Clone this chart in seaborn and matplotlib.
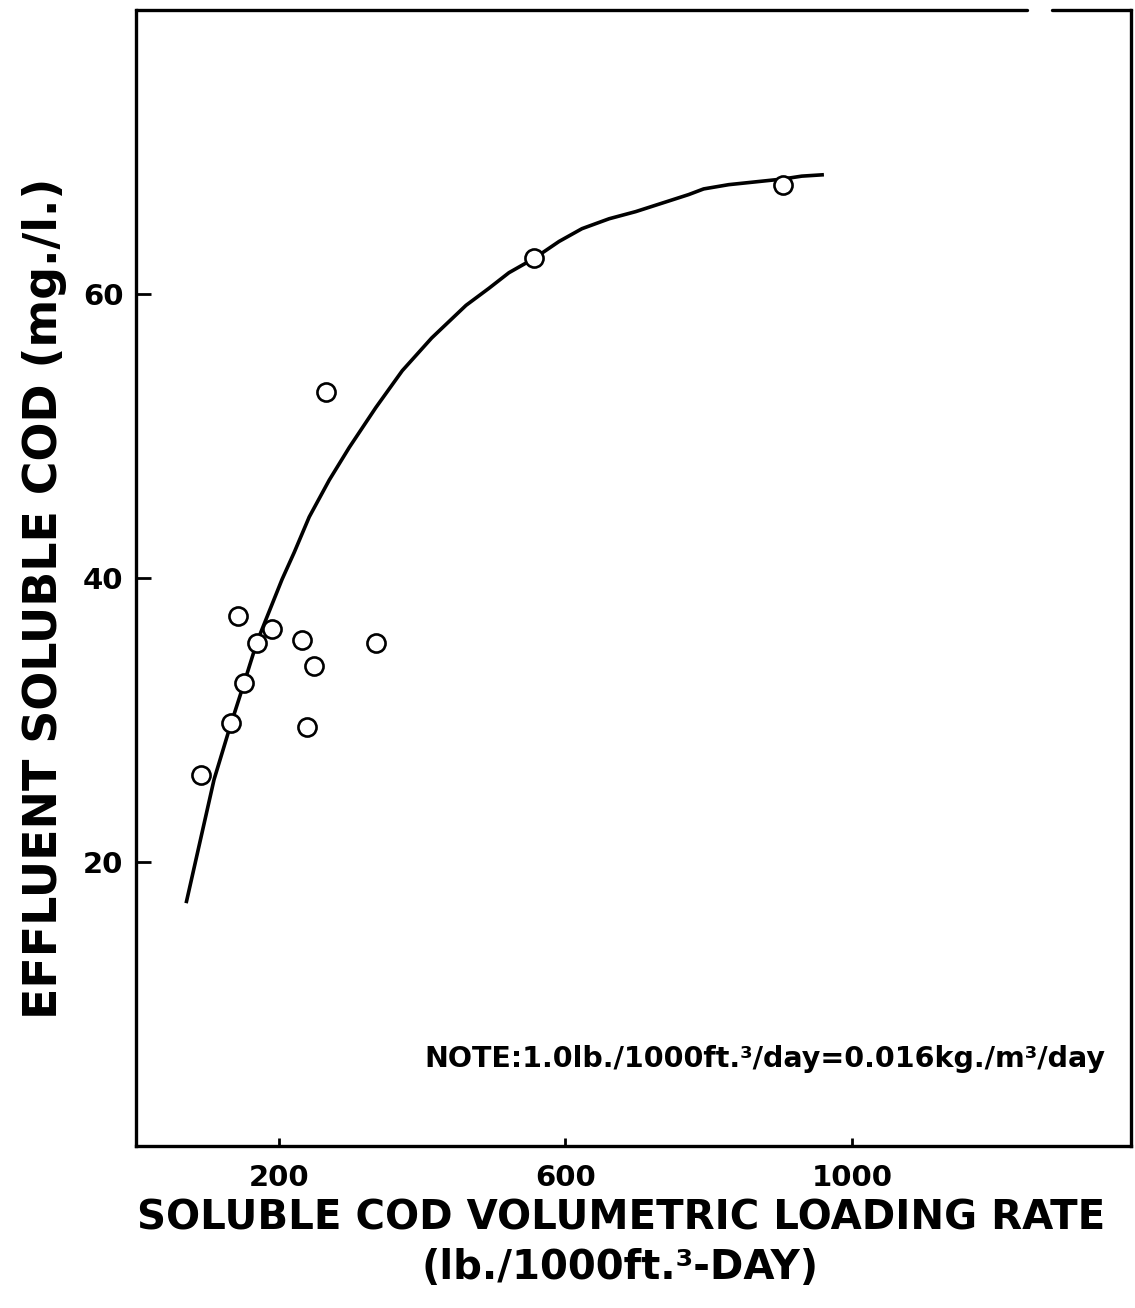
import matplotlib
matplotlib.use("Agg")
import matplotlib.pyplot as plt
import seaborn as sns
import pandas as pd

# ── Data ──────────────────────────────────────────────
load_rate = [91, 133, 142, 151, 169, 190, 232, 239, 249, 265, 335, 556, 904]
eff_cod = [26.1, 29.8, 37.3, 32.6, 35.4, 36.4, 35.6, 29.5, 33.8, 53.1, 35.4, 62.5, 67.7]

# hand-drawn fit line
curve_x = [70, 109, 130, 151, 169, 204, 221, 242, 270, 298, 335, 372, 413, 461, 493, 521,
           556, 591, 623, 661, 698, 735, 772, 793, 828, 866, 904, 930, 961]
curve_y = [17.1, 25.8, 29.3, 32.6, 35.5, 39.9, 41.8, 44.3, 46.9, 49.2, 52.0, 54.6, 56.9, 59.2,
           60.4, 61.5, 62.5, 63.7, 64.6, 65.3, 65.8, 66.4, 67.0, 67.4, 67.7, 67.9, 68.1, 68.3, 68.4]

x_ticks = [200, 600, 1000]
y_ticks = [20, 40, 60]
# ──────────────────────────────────────────────────────

sns.set_style("ticks")
plt.rcParams["font.family"] = ["DejaVu Sans"]
plt.rcParams["font.weight"] = "bold"
plt.rcParams["text.color"] = "black"
plt.rcParams["axes.edgecolor"] = "black"
plt.rcParams["xtick.color"] = "black"
plt.rcParams["ytick.color"] = "black"

pts = pd.DataFrame({"x": load_rate, "y": eff_cod})
fit = pd.DataFrame({"x": curve_x, "y": curve_y})

fig = plt.figure(figsize=(11.35, 13.08), dpi=100)
ax = fig.add_axes([136 / 1135, 1 - 1146 / 1308, 995 / 1135, 1136 / 1308])

sns.lineplot(data=fit, x="x", y="y", ax=ax, color="black", lw=2.6,
             sort=False, estimator=None, solid_capstyle="butt", solid_joinstyle="round")
sns.scatterplot(data=pts, x="x", y="y", ax=ax, s=170, marker="o",
                facecolor="white", edgecolor="black", linewidth=1.9, zorder=3)

ax.set_xlim(0, 1390)
ax.set_ylim(0, 80)
ax.set_xticks(x_ticks)
ax.set_yticks(y_ticks)
ax.tick_params(axis="x", direction="in", length=6, width=2, pad=13, labelsize=21)
ax.tick_params(axis="y", direction="in", length=11, width=2, pad=9, labelsize=21)
for lab in ax.get_xticklabels() + ax.get_yticklabels():
    lab.set_fontweight("bold")

for side in ["left", "bottom", "right"]:
    ax.spines[side].set_linewidth(2.4)
# top border has a small break near the right corner
ax.spines["top"].set_visible(False)
ax.plot([0, 0.895], [1, 1], transform=ax.transAxes, color="black", lw=2.4, clip_on=False)
ax.plot([0.921, 1], [1, 1], transform=ax.transAxes, color="black", lw=2.4, clip_on=False)

ax.set_xlabel("")
ax.set_ylabel("")

ax.text(0.974, 0.077, "NOTE:1.0lb./1000ft.\u00b3/day=0.016kg./m\u00b3/day",
        transform=ax.transAxes, ha="right", va="center", fontsize=20.5, fontweight="bold")

fig.text(621 / 1135, 1 - 1218 / 1308, "SOLUBLE COD VOLUMETRIC LOADING RATE",
         ha="center", va="center", fontsize=29, fontweight="bold")
fig.text(620 / 1135, 1 - 1268 / 1308, "(lb./1000ft.\u00b3-DAY)",
         ha="center", va="center", fontsize=29, fontweight="bold")
fig.text(45 / 1135, 1 - 598 / 1308, "EFFLUENT SOLUBLE COD (mg./l.)",
         ha="center", va="center", rotation=90, fontsize=33, fontweight="bold")

fig.savefig("out.png", dpi=100)
